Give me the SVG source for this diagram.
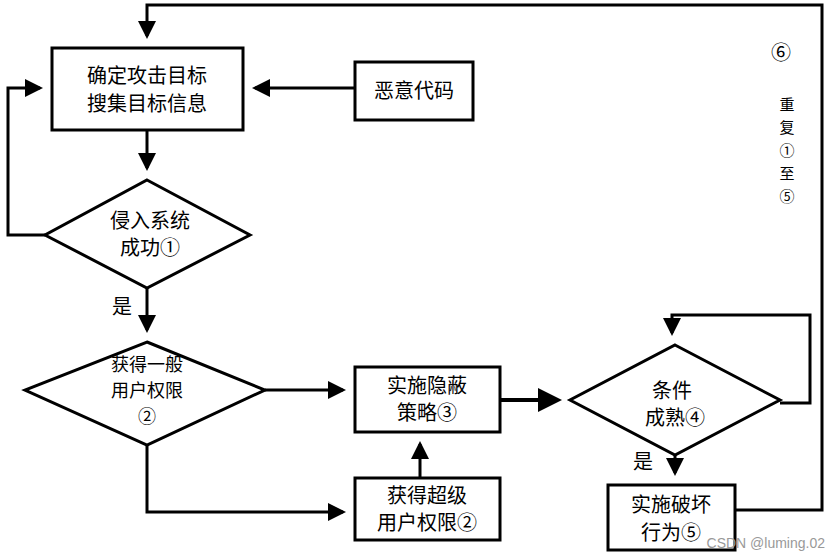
<svg xmlns="http://www.w3.org/2000/svg" width="833" height="558" viewBox="0 0 833 558">
<style>
.n{fill:#fff;stroke:#000;stroke-width:3}
.t{font-family:"Noto Sans CJK SC","Liberation Sans",sans-serif;font-size:20px;fill:#000;text-anchor:middle}
.d{font-family:"Noto Sans CJK SC","Liberation Sans",sans-serif;font-size:18px;fill:#000;text-anchor:middle}
.v{font-family:"Noto Sans CJK SC","Liberation Sans",sans-serif;font-size:15px;fill:#000;text-anchor:middle}
.c{fill:none;stroke:#000;stroke-width:3;marker-end:url(#a)}
</style>
<defs><marker id="a" markerWidth="6" markerHeight="6" refX="5" refY="3" orient="auto" markerUnits="strokeWidth"><path d="M0,0 L6,3 L0,6 z"/></marker></defs>
<rect width="833" height="558" fill="#fff"/>
<g id="connectors">
<path class="c" d="M355,88 H255"/>
<path class="c" d="M45,235 H8 V88 H40"/>
<path class="c" d="M147,130 V168"/>
<path class="c" d="M147,288 V330"/>
<path class="c" d="M265,390 H343"/>
<path class="c" d="M147,445 V512 H343"/>
<path class="c" d="M420,478 V444"/>
<path class="c" d="M500,400 H558" style="stroke-width:4"/>
<path class="c" d="M780,403 H810 V315 H672 V333"/>
<path class="c" d="M675,455 V473"/>
<path class="c" d="M735,510 H822 V5 H147 V36"/>
</g>
<g id="n1"><rect class="n" x="52" y="48" width="191" height="82"/><text class="t" x="147" y="83">确定攻击目标</text><text class="t" x="147" y="111">搜集目标信息</text></g>
<g id="n2"><rect class="n" x="355" y="62" width="118" height="58"/><text class="t" x="414" y="98">恶意代码</text></g>
<g id="n3"><polygon class="n" points="147,180 250,235 147,288 45,235"/><text class="t" x="150" y="228">侵入系统</text><text class="t" x="150" y="255">成功①</text></g>
<text class="t" x="122" y="314">是</text>
<g id="n4"><polygon class="n" points="147,342 265,390 147,445 25,390"/><text class="d" x="147" y="371">获得一般</text><text class="d" x="147" y="397">用户权限</text><text class="d" x="147" y="423">②</text></g>
<g id="n5"><rect class="n" x="355" y="367" width="145" height="65"/><text class="t" x="427" y="393">实施隐蔽</text><text class="t" x="427" y="420">策略③</text></g>
<g id="n6"><rect class="n" x="355" y="478" width="145" height="62"/><text class="t" x="427" y="503">获得超级</text><text class="t" x="427" y="530">用户权限②</text></g>
<g id="n7"><polygon class="n" points="675,345 780,400 675,455 570,400"/><text class="t" x="672" y="398">条件</text><text class="t" x="675" y="425">成熟④</text></g>
<text class="t" x="643" y="469">是</text>
<g id="n8"><rect class="n" x="608" y="485" width="127" height="65"/><text class="t" x="671" y="512">实施破坏</text><text class="t" x="671" y="540">行为⑤</text></g>
<text class="t" x="781" y="60">⑥</text>
<text class="v" x="787" y="110">重</text><text class="v" x="787" y="133">复</text><text class="v" x="787" y="156">①</text><text class="v" x="787" y="179">至</text><text class="v" x="787" y="202">⑤</text>
<text x="825" y="548" style="font-family:'Liberation Sans',sans-serif;font-size:14px;fill:#999;text-anchor:end">CSDN @luming.02</text>
</svg>
